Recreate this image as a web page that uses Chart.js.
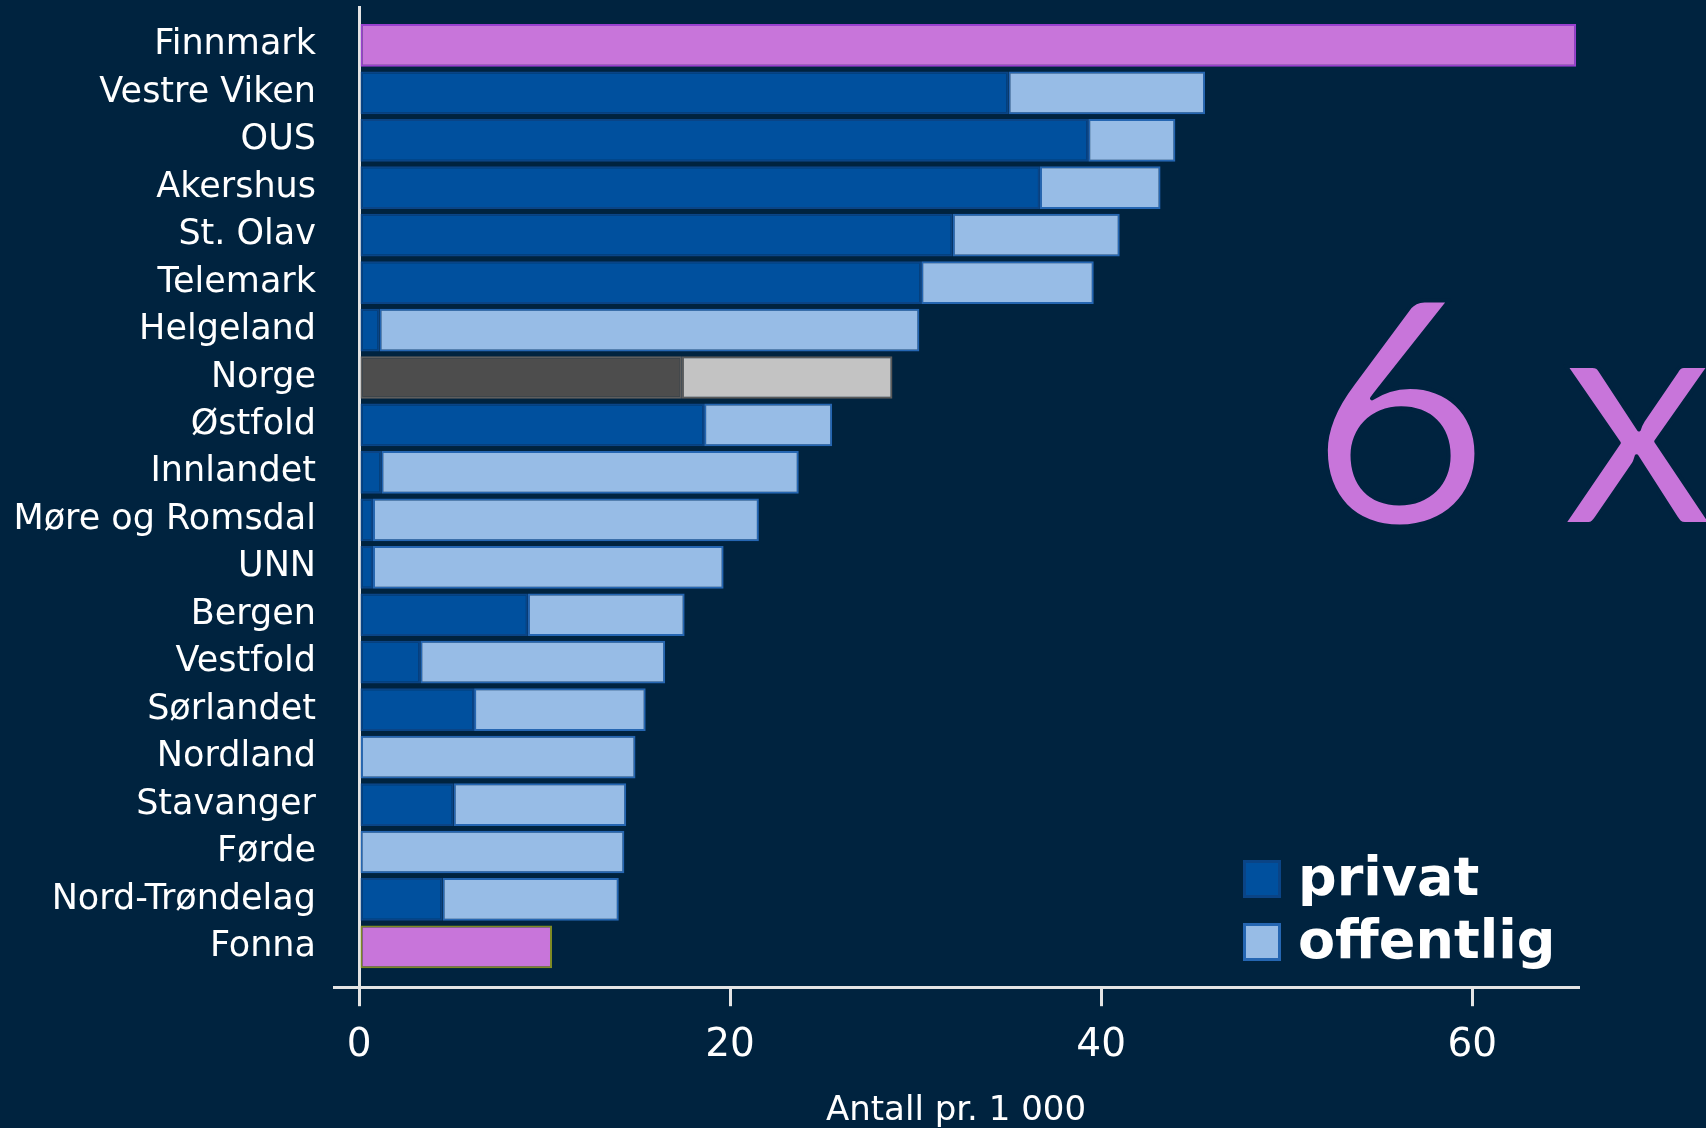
<!DOCTYPE html>
<html>
<head>
<meta charset="utf-8">
<script src="https://cdn.jsdelivr.net/npm/chart.js@4.4.1/dist/chart.umd.min.js"></script>
<style>
  html, body { margin: 0; padding: 0; background: #00233f; overflow: hidden; }
  canvas { display: block; }
</style>
</head>
<body>
<canvas id="chart" width="1706" height="1128"></canvas>
<script>

/* data */

const categories = [
    "Finnmark", "Vestre Viken", "OUS", "Akershus", "St. Olav", "Telemark",
    "Helgeland", "Norge", "Østfold", "Innlandet", "Møre og Romsdal", "UNN",
    "Bergen", "Vestfold", "Sørlandet", "Nordland", "Stavanger", "Førde",
    "Nord-Trøndelag", "Fonna"
];

// Finnmark and Fonna are shown as one whole (pink) bar, kept in "privat"
const privat = [
    65.6, 35.0, 39.3, 36.7, 32.0, 30.3,
    1.1, 17.4, 18.6, 1.2, 0.75, 0.75,
    9.1, 3.3, 6.2, 0.1, 5.1, 0,
    4.5, 10.4
];

const offentlig = [
    0, 10.6, 4.7, 6.5, 9.0, 9.3,
    29.1, 11.35, 6.9, 22.5, 20.8, 18.9,
    8.45, 13.2, 9.25, 14.8, 9.3, 14.3,
    9.5, 0
];

const xTicks = [0, 20, 40, 60];
const xTitle = "Antall pr. 1 000";
const bigText = "6 x";

const highlighted = ["Finnmark", "Fonna"];
const national = "Norge";

/* colours */

const BG = "#00233f";
const INK = "#ffffff";
const AXIS = "#e4e4e4";
const PINK = "#c875da";
const pinkEdge = { "Finnmark": "#9a40cf", "Fonna": "#7e8a24" };
const colors = {
    privat:    { fill: "#00509e", edge: "#0a4486" },
    offentlig: { fill: "#97bce6", edge: "#2566b2" },
    privatNo:    { fill: "#4d4d4d", edge: "#5e5e5e" },
    offentligNo: { fill: "#c3c3c3", edge: "#5a5a5a" }
};

function fillFor(key){
    return function(ctx){
        const name = categories[ctx.dataIndex];
        if(highlighted.includes(name)) return PINK;
        if(name === national) return colors[key + "No"].fill;
        return colors[key].fill;
    };
}

function edgeFor(key){
    return function(ctx){
        const name = categories[ctx.dataIndex];
        if(highlighted.includes(name)) return pinkEdge[name];
        if(name === national) return colors[key + "No"].edge;
        return colors[key].edge;
    };
}

/* background, big "6 x" and the legend in the lower right */

const backdrop = {
    id: "backdrop",
    beforeDraw(chart){
        const c = chart.ctx;
        c.save();
        c.fillStyle = BG;
        c.fillRect(0, 0, chart.width, chart.height);
        c.restore();
    }
};

const bigLabel = {
    id: "bigLabel",
    afterDraw(chart){
        const c = chart.ctx;
        c.save();
        c.font = "normal 312px Lato, 'Noto Sans', sans-serif";
        c.textBaseline = "alphabetic";
        c.textAlign = "left";
        if("letterSpacing" in c) c.letterSpacing = "-5px";
        c.fillStyle = PINK;
        c.fillText(bigText, 1309, 524);
        // thin the strokes a little, the original face is lighter
        c.strokeStyle = BG;
        c.lineWidth = 4;
        c.lineJoin = "round";
        c.strokeText(bigText, 1309, 524);
        c.restore();
    }
};

const cornerLegend = {
    id: "cornerLegend",
    afterDraw(chart){
        const c = chart.ctx;
        const keys = ["privat", "offentlig"];
        c.save();
        c.font = "bold 54px 'DejaVu Sans'";
        c.textBaseline = "middle";
        c.textAlign = "left";
        keys.forEach((k, i) => {
            const yc = 879 + i * 63;
            c.fillStyle = colors[k].edge;
            c.fillRect(1243, yc - 19, 38, 38);
            c.fillStyle = colors[k].fill;
            c.fillRect(1246, yc - 16, 32, 32);
            c.fillStyle = INK;
            c.fillText(chart.data.datasets[i].label, 1298, yc + 2);
        });
        c.restore();
    }
};

new Chart(document.getElementById("chart"), {
    type: "bar",
    data: {
        datasets: [
            {
                label: "privat",
                data: privat.map((v, i) => ({ x: v, y: i })),
                backgroundColor: fillFor("privat"),
                borderColor: edgeFor("privat"),
                borderWidth: 2,
                borderSkipped: false
            },
            {
                label: "offentlig",
                data: offentlig.map((v, i) => ({ x: v, y: i })),
                backgroundColor: fillFor("offentlig"),
                borderColor: edgeFor("offentlig"),
                borderWidth: 2,
                borderSkipped: false
            }
        ]
    },
    options: {
        indexAxis: "y",
        responsive: false,
        animation: false,
        categoryPercentage: 1,
        barPercentage: 0.9,
        layout: { padding: { top: 6, right: 128, bottom: 0, left: 0 } },
        plugins: {
            legend: { display: false },
            tooltip: { enabled: false }
        },
        scales: {
            x: {
                type: "linear",
                stacked: true,
                min: -1.35,
                max: 65.7,
                afterBuildTicks: (scale) => { scale.ticks = xTicks.map(v => ({ value: v })); },
                border: { display: true, color: AXIS, width: 3 },
                grid: {
                    display: true,
                    drawOnChartArea: true,
                    color: (ctx) => (ctx.tick && ctx.tick.value === 0) ? AXIS : "transparent",
                    tickColor: AXIS,
                    lineWidth: 3,
                    tickLength: 19
                },
                ticks: {
                    color: INK,
                    padding: 16,
                    maxRotation: 0,
                    font: { family: "'DejaVu Sans'", size: 39 }
                },
                title: {
                    display: true,
                    text: xTitle,
                    color: INK,
                    padding: { top: 9, bottom: 0 },
                    font: { family: "'DejaVu Sans'", size: 34, lineHeight: 1 }
                }
            },
            y: {
                type: "linear",
                stacked: true,
                reverse: true,
                offset: false,
                min: -0.83,
                max: 19.85,
                afterBuildTicks: (scale) => { scale.ticks = categories.map((_, i) => ({ value: i })); },
                afterFit: (scale) => {
                    scale.width = 334;
                    scale.paddingTop = 0;
                    scale.paddingBottom = 0;
                },
                border: { display: false },
                grid: { display: false, drawTicks: false, offset: false },
                ticks: {
                    color: INK,
                    padding: 18,
                    autoSkip: false,
                    font: { family: "'DejaVu Sans'", size: 35 },
                    callback: (v) => categories[v]
                }
            }
        }
    },
    plugins: [backdrop, bigLabel, cornerLegend]
});
</script>
</body>
</html>
